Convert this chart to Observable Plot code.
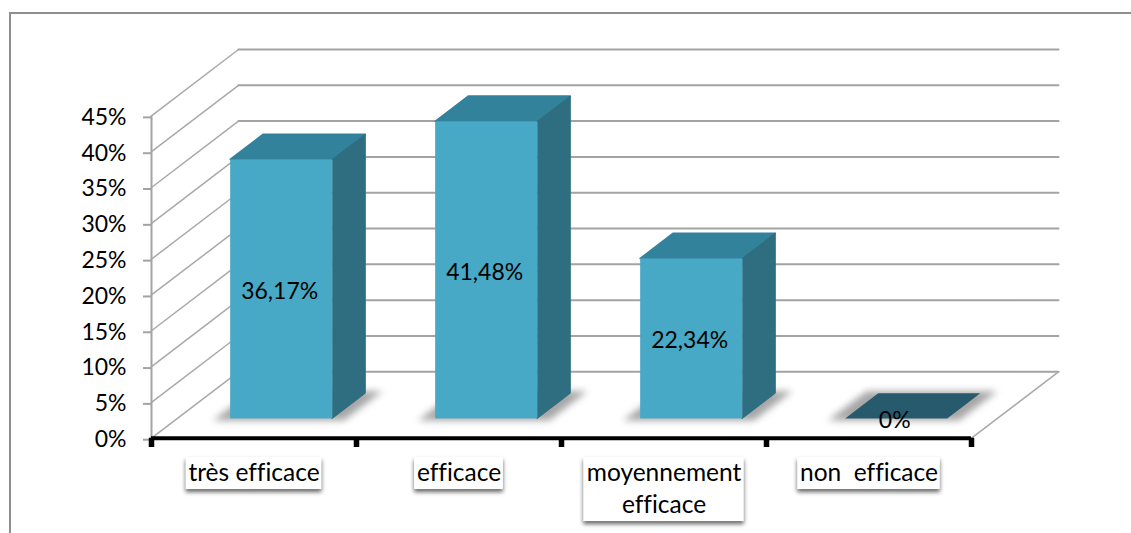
<!DOCTYPE html>
<html lang="fr">
<head>
<meta charset="utf-8">
<title>Efficacité</title>
<style>
  html, body { margin: 0; padding: 0; background: #fff; overflow: hidden; }
  #page { position: relative; width: 1131px; height: 533px; }
  #frame { position: absolute; left: 9px; top: 12px; right: 0; bottom: 0;
           border-left: 2px solid #8f8f8f; border-top: 2px solid #8f8f8f; }
  #chart { position: absolute; left: 0; top: 0; }
  #chart svg { background: transparent; font-variant-ligatures: none; font-feature-settings: "liga" 0, "clig" 0; }
</style>
<script src="https://cdn.jsdelivr.net/npm/d3@7"></script>
<script src="https://cdn.jsdelivr.net/npm/@observablehq/plot@0.6"></script>
</head>
<body>
<div id="page"><div id="frame"></div><div id="chart"></div></div>
<script>
// Survey results
const categories = ["très efficace", "efficace", "moyennement\nefficace", "non\u00a0 efficace"];
const values = [36.17, 41.48, 22.34, 0];
const valueLabels = ["36,17%", "41,48%", "22,34%", "0%"];
const yTicks = [0, 5, 10, 15, 20, 25, 30, 35, 40, 45];

// Oblique projection of the chart box: depth 1 is the back wall
const depthX = 0.4244;   // category units per unit of depth
const depthY = 9.27;     // percentage points per unit of depth
const px = (u, d) => u + depthX * d;
const py = (v, d) => v + depthY * d;

// Bar footprint, in category units and depth units
const barU = [0.263, 0.761];
const barD = [0.29, 0.67];
const row = categories.map((c, i) => ({i, c, v: values[i], t: valueLabels[i]}));

const fontFamily = "Lato, 'Open Sans', sans-serif";
const fontSize = 23;
const categoryFontSize = 24.5;

// Wall gridlines
const wall = yTicks.flatMap((v) => [
  {k: `s${v}`, x: px(0, 0), y: py(v, 0)},
  {k: `s${v}`, x: px(0, 1), y: py(v, 1)}
]);
const back = yTicks.flatMap((v) => [
  {k: `b${v}`, x: px(0, 1), y: py(v, 1)},
  {k: `b${v}`, x: px(4, 1), y: py(v, 1)}
]);
const floorEdge = [
  {x: px(4, 0), y: py(0, 0)},
  {x: px(4, 1), y: py(0, 1)}
];

// Faces of a bar
const footprint = (pu, pd) => row.flatMap(({i}) => [
  {i, y: py(0, barD[0] - pd), x1: px(i + barU[0] - pu, barD[0] - pd), x2: px(i + barU[1] + pu, barD[0] - pd)},
  {i, y: py(0, barD[1] + pd), x1: px(i + barU[0] - pu, barD[1] + pd), x2: px(i + barU[1] + pu, barD[1] + pd)}
]);
const topFace = row.filter((r) => r.v > 0).flatMap(({i, v}) => [
  {i, y: py(v, barD[0]), x1: px(i + barU[0], barD[0]), x2: px(i + barU[1], barD[0])},
  {i, y: py(v, barD[1]), x1: px(i + barU[0], barD[1]), x2: px(i + barU[1], barD[1])}
]);
const sideFace = row.filter((r) => r.v > 0).flatMap(({i, v}) => [
  {i, x: px(i + barU[1], barD[0]), y1: py(0, barD[0]), y2: py(v, barD[0])},
  {i, x: px(i + barU[1], barD[1]), y1: py(0, barD[1]), y2: py(v, barD[1])}
]);

// Category label boxes are sized from the text they hold
const unitPx = 205;
const valuePx = 7.16;
const ctx = document.createElement("canvas").getContext("2d");
ctx.font = `${categoryFontSize}px Lato`;
ctx.fontKerning = "normal";
const labelTop = -2.7;
const labelLine = 32 / valuePx;
const boxes = row.map(({i, c}) => {
  const lines = c.split("\n");
  const w = d3.max(lines, (l) => ctx.measureText(l).width) + 6;
  return {
    x1: i + 0.5 - w / 2 / unitPx,
    x2: i + 0.5 + w / 2 / unitPx,
    y1: labelTop,
    y2: labelTop - lines.length * labelLine
  };
});

const chart = Plot.plot({
  width: 1131,
  height: 533,
  marginLeft: 151,
  marginRight: 73,
  marginTop: 49,
  marginBottom: 95.3,
  style: {fontFamily, background: "transparent", overflow: "visible"},
  x: {type: "linear", domain: [0, px(4, 1)], axis: null},
  y: {type: "linear", domain: [0, py(45, 1)], axis: null},
  marks: [
    // walls and floor
    Plot.line(wall, {x: "x", y: "y", z: "k", stroke: "#a9a9a9", strokeWidth: 1.5}),
    Plot.line(back, {x: "x", y: "y", z: "k", stroke: "#a3a3a3", strokeWidth: 2}),
    Plot.line(floorEdge, {x: "x", y: "y", stroke: "#a9a9a9", strokeWidth: 1.5}),
    Plot.ruleX([0], {y1: 0, y2: 45, stroke: "#a3a3a3", strokeWidth: 2}),
    Plot.axisY({
      ticks: yTicks, tickFormat: (d) => `${d}%`, label: null,
      tickSize: 8, tickPadding: 17, stroke: "#a3a3a3", strokeWidth: 2,
      fill: "#000", fontSize, dy: 1.5
    }),

    // soft shadows under the bars
    Plot.areaX(footprint(0.07, 0.03), {
      y: "y", x1: "x1", x2: "x2", z: "i", fill: "#a6a6a6", imageFilter: "blur(3.5px)"
    }),

    // bars, with slightly rounded edges
    Plot.areaX(topFace, {y: "y", x1: "x1", x2: "x2", z: "i", fill: "#33829c", stroke: "#33829c", strokeWidth: 1.5, strokeLinejoin: "round"}),
    Plot.areaY(sideFace, {x: "x", y1: "y1", y2: "y2", z: "i", fill: "#2f6e81", stroke: "#2f6e81", strokeWidth: 1, strokeLinejoin: "round"}),
    Plot.rect(row.filter((r) => r.v > 0), {
      x1: (r) => px(r.i + barU[0], barD[0]),
      x2: (r) => px(r.i + barU[1], barD[0]),
      y1: () => py(0, barD[0]),
      y2: (r) => py(r.v, barD[0]),
      fill: "#48a9c6"
    }),
    Plot.areaX(footprint(0, 0).filter((d) => values[d.i] === 0), {
      y: "y", x1: "x1", x2: "x2", z: "i", fill: "#265a6c"
    }),

    // base axis
    Plot.ruleY([0], {x1: 0, x2: 4, stroke: "#000", strokeWidth: 4}),
    Plot.ruleX([0, 1, 2, 3, 4], {y1: 0, y2: -1.3, stroke: "#000", strokeWidth: 5.5}),

    // category labels
    Plot.rect(boxes, {
      x1: "x1", x2: "x2", y1: "y1", y2: "y2", fill: "#fff",
      imageFilter: "drop-shadow(0 3px 2px #666)"
    }),
    Plot.text(row, {
      x: (r) => r.i + 0.5,
      y: labelTop - 0.12,
      text: "c",
      lineAnchor: "top",
      lineHeight: 32 / categoryFontSize,
      fontSize: categoryFontSize,
      fill: "#000"
    }),

    // value labels, centred on the height of each bar
    Plot.text(row, {
      x: (r) => px(r.i + (barU[0] + barU[1]) / 2, barD[0]),
      y: (r) => py(r.v / 2, barD[0]),
      text: "t",
      fontSize,
      fill: "#000",
      dx: -2,
      dy: 2
    })
  ]
});
document.getElementById("chart").append(chart);
</script>
</body>
</html>
